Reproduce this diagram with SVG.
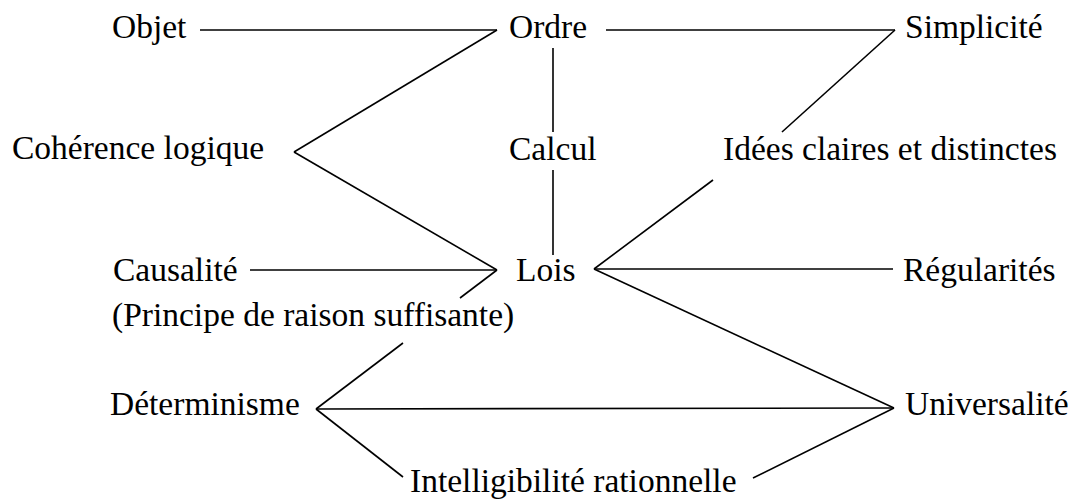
<svg xmlns="http://www.w3.org/2000/svg" width="1075" height="500" viewBox="0 0 1075 500">
  <style>
    .t text { font-family: 'Liberation Serif', 'Times New Roman', serif; font-size: 33.5px; fill: #000; }
    .c line { stroke: #000; stroke-width: 1.6; stroke-linecap: butt; fill: none; }
  </style>
  <rect width="1075" height="500" fill="#fff"/>
  <g id="connectors" class="c">
    <line x1="200" y1="30" x2="497" y2="30"/>
    <line x1="606" y1="30" x2="895" y2="30"/>
    <line x1="497" y1="30" x2="294" y2="152"/>
    <line x1="294" y1="152" x2="497" y2="270"/>
    <line x1="553" y1="48" x2="553" y2="132"/>
    <line x1="553" y1="170" x2="553" y2="255"/>
    <line x1="895" y1="30" x2="782" y2="132"/>
    <line x1="713" y1="180" x2="594" y2="269"/>
    <line x1="250" y1="270" x2="497" y2="270"/>
    <line x1="497" y1="270" x2="460" y2="298"/>
    <line x1="403" y1="343" x2="316" y2="409"/>
    <line x1="594" y1="269" x2="893" y2="269"/>
    <line x1="594" y1="269" x2="894" y2="408"/>
    <line x1="316" y1="409" x2="894" y2="408"/>
    <line x1="316" y1="409" x2="403" y2="477"/>
    <line x1="894" y1="408" x2="753" y2="478"/>
  </g>
  <g class="t">
    <g id="n-objet"><text x="112" y="38">Objet</text></g>
    <g id="n-ordre"><text x="509" y="38">Ordre</text></g>
    <g id="n-simplicite"><text x="905" y="38">Simplicité</text></g>
    <g id="n-coherence"><text x="12" y="159">Cohérence logique</text></g>
    <g id="n-calcul"><text x="509" y="160">Calcul</text></g>
    <g id="n-idees"><text x="723" y="160">Idées claires et distinctes</text></g>
    <g id="n-causalite"><text x="113" y="281">Causalité</text><text x="112" y="326">(Principe de raison suffisante)</text></g>
    <g id="n-lois"><text x="516" y="281">Lois</text></g>
    <g id="n-regularites"><text x="903" y="281">Régularités</text></g>
    <g id="n-determinisme"><text x="110" y="415">Déterminisme</text></g>
    <g id="n-universalite"><text x="905" y="415">Universalité</text></g>
    <g id="n-intelligibilite"><text x="410" y="492">Intelligibilité rationnelle</text></g>
  </g>
</svg>
